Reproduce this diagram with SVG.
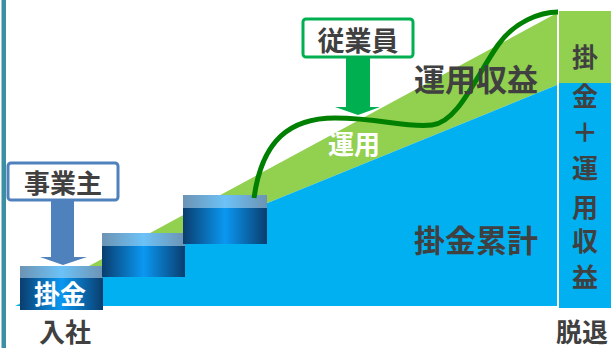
<svg xmlns="http://www.w3.org/2000/svg" width="611" height="348" viewBox="0 0 611 348">
<defs>
<style>
.t{font-family:"Noto Sans CJK JP","Noto Sans CJK SC",sans-serif;font-weight:bold;fill:#404040;}
.w{fill:#ffffff;}
</style>
<linearGradient id="top" x1="0" y1="0" x2="1" y2="0">
<stop offset="0" stop-color="#6d93b3"/>
<stop offset="0.5" stop-color="#6cc2f7"/>
<stop offset="1" stop-color="#6d93b3"/>
</linearGradient>
<linearGradient id="body" x1="0" y1="0" x2="1" y2="0">
<stop offset="0" stop-color="#0a3d6e"/>
<stop offset="0.5" stop-color="#0a98f2"/>
<stop offset="1" stop-color="#0a3d6e"/>
</linearGradient>
</defs>
<rect x="0" y="0" width="611" height="348" fill="#ffffff"/>
<rect x="1.5" y="0" width="4.5" height="348" fill="#3a8fa3"/>
<g id="areas">
<polygon points="15,306 557,13 557,85" fill="#92d050"/>
<polygon points="15,306 557,85 557,306" fill="#00b0f0"/>
</g>
<g id="column">
<rect x="559" y="11" width="52" height="72" fill="#92d050"/>
<rect x="559" y="83" width="52" height="225" fill="#00b0f0"/>
<text class="t" font-size="26" text-anchor="middle" x="585" y="67">掛</text>
<text class="t" font-size="26" text-anchor="middle" x="585" y="106">金</text>
<text class="t" font-size="26" text-anchor="middle" x="585" y="142">＋</text>
<text class="t" font-size="26" text-anchor="middle" x="585" y="178">運</text>
<text class="t" font-size="26" text-anchor="middle" x="585" y="217">用</text>
<text class="t" font-size="26" text-anchor="middle" x="585" y="251">収</text>
<text class="t" font-size="26" text-anchor="middle" x="585" y="287">益</text>
</g>
<g id="step1">
<rect x="20" y="266" width="83" height="12" fill="url(#top)"/>
<rect x="20" y="278" width="83" height="32" fill="url(#body)"/>
<text class="t w" font-size="26" text-anchor="middle" x="60" y="304">掛金</text>
</g>
<g id="step2">
<rect x="102" y="233" width="83" height="13" fill="url(#top)"/>
<rect x="102" y="246" width="83" height="31" fill="url(#body)"/>
</g>
<g id="step3">
<rect x="183" y="195" width="84" height="13" fill="url(#top)"/>
<rect x="183" y="208" width="84" height="36" fill="url(#body)"/>
</g>
<g id="connectors">
<path d="M254,198 C262,140 290,118 335,118 C380,118 405,128 432,125 C458,122 475,78 498,45 C514,22 540,12 558,12" fill="none" stroke="#008000" stroke-width="5"/>
<polygon points="51,201 74,201 74,257 87,257 63,265 40,257 51,257" fill="#4f81bd"/>
<polygon points="346,58 370,58 370,107 380,107 358,115 335,107 346,107" fill="#00b050"/>
</g>
<g id="jigyounushi">
<rect x="8" y="163" width="110" height="37" rx="3" fill="#ffffff" stroke="#4f81bd" stroke-width="3"/>
<text class="t" font-size="26" text-anchor="middle" x="63" y="193">事業主</text>
</g>
<g id="juugyouin">
<rect x="303" y="19" width="110" height="38" rx="3" fill="#ffffff" stroke="#00b050" stroke-width="3"/>
<text class="t" font-size="27" text-anchor="middle" x="358" y="51">従業員</text>
</g>
<g id="labels">
<text class="t w" font-size="26" text-anchor="middle" x="354" y="154">運用</text>
<text class="t" font-size="31" text-anchor="middle" x="476" y="91">運用収益</text>
<text class="t" font-size="31" text-anchor="middle" x="476" y="252">掛金累計</text>
<text class="t" font-size="26" text-anchor="middle" x="65" y="342">入社</text>
<text class="t" font-size="26" x="556" y="342">脱退</text>
</g>
</svg>
